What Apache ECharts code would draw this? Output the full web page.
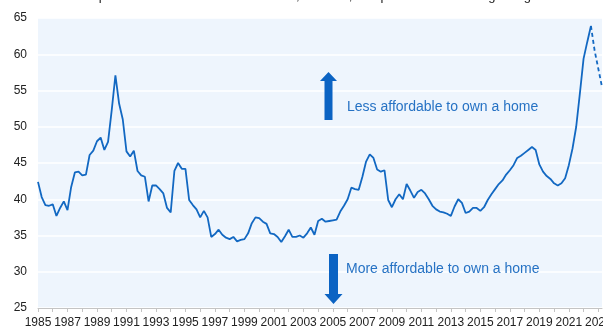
<!DOCTYPE html>
<html>
<head>
<meta charset="utf-8">
<script src="https://cdn.jsdelivr.net/npm/echarts@6/dist/echarts.min.js"></script>
<style>html,body{margin:0;padding:0;background:#fff}#c{width:603px;height:330px}</style>
</head>
<body>
<div id="c"></div>
<script>
// Ownership costs as % of household income, quarterly from 1985 Q1
const startYear = 1985;
const actual = [
42.4,40.3,39.2,39.1,39.3,37.7,38.8,39.7,38.5,41.7,
43.7,43.8,43.3,43.4,46.1,46.7,48.0,48.5,46.8,47.9,
52.3,57.1,53.2,51.0,46.6,45.9,46.7,43.9,43.3,43.1,
39.7,41.9,41.9,41.4,40.8,38.8,38.2,43.9,45.0,44.2,
44.2,39.9,39.2,38.6,37.5,38.4,37.5,34.8,35.2,35.8,
35.1,34.7,34.5,34.8,34.2,34.4,34.5,35.3,36.7,37.5,
37.4,36.9,36.6,35.3,35.2,34.8,34.1,34.9,35.8,34.8,
34.8,35.0,34.7,35.3,36.1,35.1,37.0,37.3,36.9,37.0,
37.1,37.2,38.3,39.1,40.0,41.6,41.4,41.3,43.1,45.2,
46.2,45.7,44.1,43.8,44.0,39.9,38.9,40.0,40.7,40.0,
42.1,41.2,40.2,41.0,41.3,40.8,40.0,39.1,38.6,38.3,
38.2,38.0,37.7,39.0,40.0,39.5,38.1,38.3,38.8,38.8,
38.4,38.9,39.9,40.7,41.4,42.1,42.6,43.4,44.0,44.7,
45.7,46.0,46.4,46.8,47.2,46.8,44.8,43.8,43.2,42.8,
42.2,41.9,42.2,42.9,44.7,47.0,50.0,54.6,59.4,61.7,
63.9
];
const forecastStart = 150; // quarter index where the dashed projection begins
const forecast = [63.9, 60.5, 58.0, 55.5];
const xLabelYears = [1985,1987,1989,1991,1993,1995,1997,1999,2001,2003,2005,2007,2009,2011,2013,2015,2017,2019,2021,2023];
const yTicks = [25,30,35,40,45,50,55,60,65];
const titleText = 'Ownership costs as % of household income, Canada, composite of all housing categories';
const upText = 'Less affordable to own a home';
const downText = 'More affordable to own a home';

const actualData = actual.map((v, i) => [startYear + i / 4, v]);
const forecastData = forecast.map((v, i) => [startYear + (forecastStart + i) / 4, v]);
const xMax = startYear + (forecastStart + forecast.length - 1) / 4;

const blue = '#1268c2';
const chart = echarts.init(document.getElementById('c'), null, {renderer: 'canvas'});
chart.setOption({
  animation: false,
  backgroundColor: '#ffffff',
  grid: {left: 38, right: 1, top: 18, bottom: 22, show: true, backgroundColor: '#eef5fd', borderWidth: 0,
         containLabel: false, outerBoundsMode: 'none'},
  xAxis: {
    type: 'value', min: startYear, max: xMax, interval: 1,
    axisLine: {show: true, lineStyle: {color: '#c4c4c4', width: 1}},
    axisTick: {show: true, length: 4, lineStyle: {color: '#c4c4c4'}},
    splitLine: {show: false},
    axisLabel: {
      showMaxLabel: false, hideOverlap: false, margin: 9, color: '#222', fontSize: 12, fontFamily: 'Liberation Sans',
      formatter: v => xLabelYears.indexOf(v) >= 0 ? String(v) : ''
    }
  },
  yAxis: {
    type: 'value', min: yTicks[0], max: yTicks[yTicks.length - 1], interval: 5,
    axisLine: {show: false}, axisTick: {show: false},
    splitLine: {show: true, lineStyle: {color: '#ffffff', width: 1.5}},
    axisLabel: {margin: 11, color: '#222', fontSize: 12, fontFamily: 'Liberation Sans'}
  },
  series: [
    {type: 'line', data: actualData, symbol: 'none', lineStyle: {color: blue, width: 1.8}, z: 3},
    {type: 'line', data: forecastData, symbol: 'none', lineStyle: {color: blue, width: 1.8, type: [4, 3]}, z: 3}
  ],
  graphic: [
    {type: 'text', z: 100, left: 'center', top: -10, style: {text: titleText, fill: '#222', font: '13px Liberation Sans'}},
    {type: 'polygon', z: 100, shape: {points: [[324.5,120],[324.5,81],[320,81],[328.5,72],[337,81],[332.5,81],[332.5,120]]}, style: {fill: '#0b63c3'}},
    {type: 'polygon', z: 100, shape: {points: [[329,254],[329,294],[324.5,294],[333.5,304],[342.5,294],[338,294],[338,254]]}, style: {fill: '#0b63c3'}},
    {type: 'text', z: 100, x: 347, y: 107, style: {text: upText, fill: '#2672c4', font: '14px Liberation Sans', textVerticalAlign: 'middle'}},
    {type: 'text', z: 100, x: 346, y: 269, style: {text: downText, fill: '#2672c4', font: '14px Liberation Sans', textVerticalAlign: 'middle'}}
  ]
});
</script>
</body>
</html>
